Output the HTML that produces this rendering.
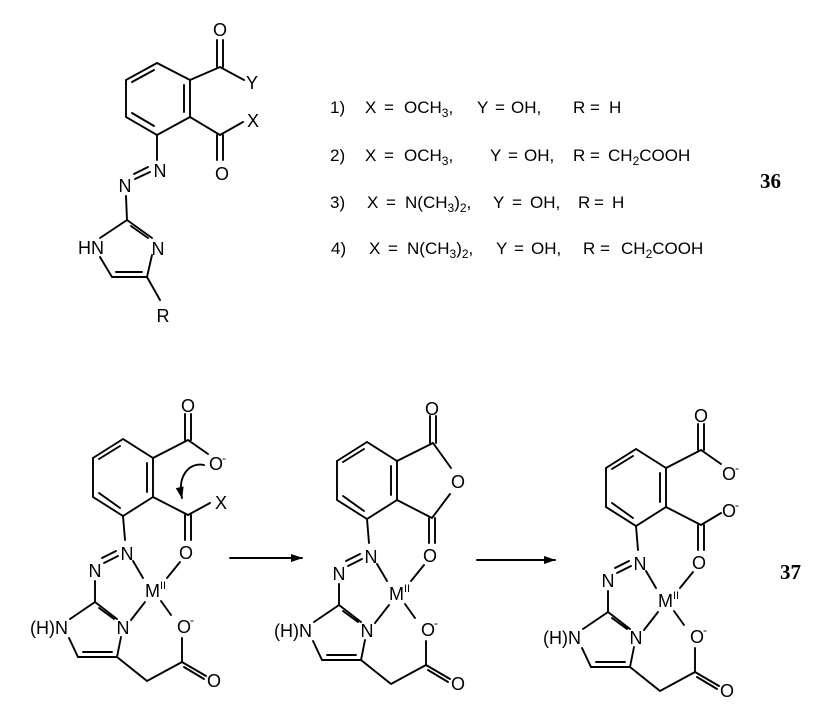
<!DOCTYPE html>
<html><head><meta charset="utf-8"><style>
html,body{margin:0;padding:0;background:#fff;}
svg{display:block;}
text{font-family:"Liberation Sans",sans-serif;fill:#000;}
.l{stroke:#000;stroke-width:1.9;fill:none;stroke-linecap:round;}
.a{font-size:18px;text-anchor:middle;}
.t text{font-size:17px;}
</style></head><body>
<svg width="833" height="719" viewBox="0 0 833 719" xmlns="http://www.w3.org/2000/svg">
<defs>
<marker id="ah" markerWidth="12" markerHeight="8" refX="11" refY="4" orient="auto" markerUnits="userSpaceOnUse">
<path d="M0,0 L12,4 L0,8 Z" fill="#000"/></marker>
</defs>

<!-- Top structure 36 -->
<g>
<path class="l" d="M157,63 L126,80 L126,117 L157,135 L190,117 L190,80 Z"/>
<path class="l" d="M154,70 L132,82 M132,113 L154,126 M184,85 L184,112"/>
<path class="l" d="M190,80 L220,67 L244,80 M190,117 L220,135 L243,122"/>
<path class="l" d="M217,67 L217,40 M223,67 L223,40 M217,135 L217,160 M223,135 L223,160"/>
<text class="a" x="220" y="36">O</text>
<text class="a" x="252" y="89">Y</text>
<text class="a" x="253" y="127">X</text>
<text class="a" x="222" y="180">O</text>
<path class="l" d="M157,135 L157,160"/>
<text class="a" x="160" y="177">N</text>
<path class="l" d="M150,172 L135,179 M148,167 L134,174"/>
<text class="a" x="125" y="192">N</text>
<path class="l" d="M126,196 L127,220 L100,238 M127,220 L152,238 M131,226 L148,238 M152,255 L147,277 L112,277 L100,257 M142,272 L116,272 M147,277 L160,300"/>
<text class="a" x="91" y="254">HN</text>
<text class="a" x="158" y="255">N</text>
<text class="a" x="163" y="322">R</text>
</g>

<!-- line list -->
<g class="t">
<text x="330" y="113">1)</text><text x="365" y="113">X</text><text x="384" y="113">=</text><text x="404" y="113">OCH<tspan font-size="12" dy="4">3</tspan><tspan dy="-4">,</tspan></text>
<text x="477" y="113">Y</text><text x="495" y="113">=</text><text x="511" y="113">OH,</text><text x="573" y="113">R</text><text x="590" y="113">=</text><text x="609" y="113">H</text>

<text x="330" y="161">2)</text><text x="365" y="161">X</text><text x="384" y="161">=</text><text x="404" y="161">OCH<tspan font-size="12" dy="4">3</tspan><tspan dy="-4">,</tspan></text>
<text x="490" y="161">Y</text><text x="508" y="161">=</text><text x="524" y="161">OH,</text><text x="573" y="161">R</text><text x="590" y="161">=</text><text x="608" y="161">CH<tspan font-size="12" dy="4">2</tspan><tspan dy="-4">COOH</tspan></text>

<text x="330" y="208">3)</text><text x="367" y="208">X</text><text x="386" y="208">=</text><text x="405" y="208">N(CH<tspan font-size="12" dy="4">3</tspan><tspan dy="-4">)</tspan><tspan font-size="12" dy="4">2</tspan><tspan dy="-4">,</tspan></text>
<text x="493" y="208">Y</text><text x="512" y="208">=</text><text x="530" y="208">OH,</text><text x="578" y="208">R</text><text x="594" y="208">=</text><text x="612" y="208">H</text>

<text x="331" y="254">4)</text><text x="369" y="254">X</text><text x="388" y="254">=</text><text x="407" y="254">N(CH<tspan font-size="12" dy="4">3</tspan><tspan dy="-4">)</tspan><tspan font-size="12" dy="4">2</tspan><tspan dy="-4">,</tspan></text>
<text x="496" y="254">Y</text><text x="514" y="254">=</text><text x="531" y="254">OH,</text><text x="583" y="254">R</text><text x="600" y="254">=</text><text x="621" y="254">CH<tspan font-size="12" dy="4">2</tspan><tspan dy="-4">COOH</tspan></text>
</g>
<text x="760" y="188" style="font-family:'Liberation Serif',serif;font-weight:bold;font-size:21px">36</text>
<text x="780" y="579" style="font-family:'Liberation Serif',serif;font-weight:bold;font-size:21px">37</text>

<!-- arrows -->
<line class="l" x1="230" y1="558" x2="302" y2="558" marker-end="url(#ah)"/>
<line class="l" x1="477" y1="560" x2="555" y2="560" marker-end="url(#ah)"/>

<defs>
<g id="core">
<path class="l" d="M123,439 L93,458 L93,497 L123,516 L153,497 L153,458 Z"/>
<path class="l" d="M120,446 L99,459 M99,493 L120,508 M147,463 L147,492"/>
<path class="l" d="M123,516 L125,540"/>
<text class="a" x="127" y="560">N</text>
<path class="l" d="M118,556 L104,563 M116,551 L102,558"/>
<text class="a" x="95" y="577">N</text>
<path class="l" d="M95,581 L95,602 L70,619 M95,602 L117,619 M99,608 L114,619 M121,637 L117,657 L78,657 L69,638 M112,652 L83,652 M117,657 L147,681 L182,662 L182,638 M182,662 L206,676 M184,667 L204,679"/>
<text class="a" x="49" y="634">(H)N</text>
<text class="a" x="123" y="634">N</text>
<text x="177" y="633" style="font-size:18px">O</text><text x="190" y="624" style="font-size:12px">-</text>
<text class="a" x="214" y="687">O</text>
<text x="145" y="597" style="font-size:18px">M</text><text x="160" y="589" style="font-size:11px">II</text>
<path class="l" d="M133,561 L143,578 M180,562 L167,578 M131,620 L145,602 M161,601 L171,615"/>
</g>
</defs>

<use href="#core"/>
<path class="l" d="M153,458 L188,440 L208,454 M153,497 L188,515 L210,503"/>
<path class="l" d="M185,440 L185,414 M191,440 L191,414 M185,515 L185,540 M191,515 L191,540"/>
<text class="a" x="188" y="412">O</text>
<text x="209" y="470" style="font-size:18px">O</text><text x="222" y="462" style="font-size:12px">-</text>
<text class="a" x="221" y="509">X</text>
<text class="a" x="186" y="559">O</text>
<path class="l" d="M204,465 C190,462 177,475 182,498" marker-end="url(#ah)"/>

<use href="#core" transform="translate(244,3)"/>
<path class="l" d="M397,461 L433,443 L451,468 M397,500 L432,518 L450,494"/>
<path class="l" d="M430,443 L430,416 M436,443 L436,416 M429,518 L429,543 M435,518 L435,543"/>
<text class="a" x="432" y="415">O</text>
<text class="a" x="458" y="488">O</text>
<text class="a" x="430" y="562">O</text>

<use href="#core" transform="translate(513,10)"/>
<path class="l" d="M666,468 L701,450 L721,464 M666,507 L701,525 L721,513"/>
<path class="l" d="M698,450 L698,424 M704,450 L704,424 M698,525 L698,550 M704,525 L704,550"/>
<text class="a" x="701" y="422">O</text>
<text x="722" y="480" style="font-size:18px">O</text><text x="735" y="472" style="font-size:12px">-</text>
<text x="722" y="517" style="font-size:18px">O</text><text x="735" y="509" style="font-size:12px">-</text>
<text class="a" x="699" y="569">O</text>
</svg>
</body></html>
